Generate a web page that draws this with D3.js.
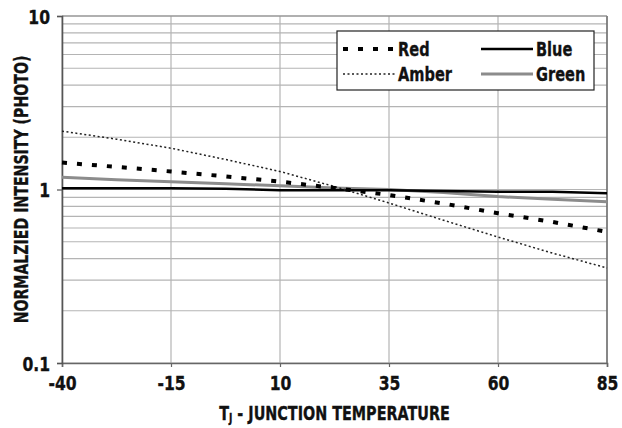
<!DOCTYPE html>
<html>
<head>
<meta charset="utf-8">
<script src="https://cdn.jsdelivr.net/npm/d3@7"></script>
<style>
  body { margin: 0; background: #fff; }
  text { font-family: "DejaVu Sans", sans-serif; font-weight: bold; fill: #111; stroke: #111; stroke-width: 0.35px; }
</style>
</head>
<body>
<svg id="chart" width="622" height="428"></svg>
<script>
// temperatures (deg C)
var temps = [-40, -27.5, -15, -2.5, 10, 22.5, 35, 47.5, 60, 72.5, 85];
// normalized intensity per colour
var redVals   = [1.43, 1.35, 1.27, 1.19, 1.11, 1.02, 0.93, 0.83, 0.73, 0.65, 0.57];
var amberVals = [2.17, 1.95, 1.73, 1.49, 1.27, 1.04, 0.836, 0.665, 0.532, 0.43, 0.353];
var blueVals  = [1.016, 1.016, 1.016, 1.01, 0.99, 0.99, 0.99, 0.98, 0.97, 0.97, 0.95];
var greenVals = [1.175, 1.14, 1.11, 1.08, 1.05, 1.02, 1.0, 0.96, 0.91, 0.88, 0.85];

var xTicks = [-40, -15, 10, 35, 60, 85];
var yTicks = [0.1, 1, 10];
var yTickLabels = ["0.1", "1", "10"];

var series = [
    { name: "Red",   values: redVals,   color: "#000", width: 4,   dash: "5,10" },
    { name: "Amber", values: amberVals, color: "#222", width: 1.5, dash: "2,2.5" },
    { name: "Blue",  values: blueVals,  color: "#000", width: 2.5, dash: null },
    { name: "Green", values: greenVals, color: "#8c8c8c", width: 3, dash: null }
];

var svg = d3.select("#chart");
var L = 62, R = 607, T = 16, B = 363;
var SQUEEZE = 0.78;   // fake a bold condensed face

var x = d3.scaleLinear().domain([-40, 85]).range([L, R]);
var y = d3.scaleLog().domain([0.1, 10]).range([B, T]);

// squeeze text horizontally around its anchor point
function condense(sel, sx) {
    sel.each(function() {
        var t = d3.select(this);
        var tx = +t.attr("x") || 0, ty = +t.attr("y") || 0;
        t.attr("transform", "translate(" + tx + "," + ty + ") scale(" + sx + ",1) translate(" + (-tx) + "," + (-ty) + ")");
    });
}

// minor + major horizontal grid
var gridY = [];
[0.1, 1].forEach(function(dec) {
    for (var k = 1; k <= 10; k++) gridY.push(dec * k);
});
svg.append("g").selectAll("line").data(gridY).enter().append("line")
    .attr("x1", L).attr("x2", R)
    .attr("y1", function(d) { return y(d); })
    .attr("y2", function(d) { return y(d); })
    .attr("stroke", "#b4b4b4").attr("stroke-width", 1.2);

// vertical grid
svg.append("g").selectAll("line").data(xTicks).enter().append("line")
    .attr("x1", function(d) { return x(d); })
    .attr("x2", function(d) { return x(d); })
    .attr("y1", T).attr("y2", B)
    .attr("stroke", "#b4b4b4").attr("stroke-width", 1.2);

// frame
svg.append("line").attr("x1", R).attr("x2", R).attr("y1", T).attr("y2", B)
    .attr("stroke", "#555").attr("stroke-width", 1.2);
svg.append("line").attr("x1", L).attr("x2", R).attr("y1", T).attr("y2", T)
    .attr("stroke", "#888").attr("stroke-width", 1.2);

// axes
var xAxis = d3.axisBottom(x).tickValues(xTicks).tickSize(4)
    .tickFormat(function(d) { return String(d); });
var gx = svg.append("g").attr("transform", "translate(0," + B + ")").call(xAxis);
gx.select(".domain").attr("stroke", "#666").attr("stroke-width", 1.6);
gx.selectAll(".tick line").attr("stroke", "#666").attr("stroke-width", 1.2);
gx.selectAll(".tick text").attr("font-size", 20).attr("dy", null).attr("y", 27);

var yAxis = d3.axisLeft(y).tickValues(yTicks).tickSize(5)
    .tickFormat(function(d, i) { return yTickLabels[i]; });
var gy = svg.append("g").attr("transform", "translate(" + L + ",0)").call(yAxis);
gy.select(".domain").attr("stroke", "#555").attr("stroke-width", 1.6);
gy.selectAll(".tick line").attr("stroke", "#555").attr("stroke-width", 1.2);
gy.selectAll(".tick text").attr("font-size", 20).attr("x", -12).attr("dy", null).attr("y", 7);

svg.selectAll(".tick text")
    .style("font-family", "'DejaVu Sans', sans-serif")
    .style("font-weight", "bold").attr("fill", "#111");
condense(svg.selectAll(".tick text"), SQUEEZE);

// series lines
var line = d3.line()
    .x(function(d) { return x(d[0]); })
    .y(function(d) { return y(d[1]); });

series.slice().reverse().forEach(function(s) {
    var pts = temps.map(function(t, i) { return [t, s.values[i]]; });
    svg.append("path").datum(pts)
        .attr("d", line)
        .attr("fill", "none")
        .attr("stroke", s.color)
        .attr("stroke-width", s.width)
        .attr("stroke-dasharray", s.dash);
});

// legend
var lg = svg.append("g");
lg.append("rect").attr("x", 337).attr("y", 31).attr("width", 257).attr("height", 59)
    .attr("fill", "#fff").attr("stroke", "#222").attr("stroke-width", 1.2);
var legPos = [[343, 49], [343, 74], [481, 49], [481, 74]];
series.forEach(function(s, i) {
    var p = legPos[i];
    lg.append("line").attr("x1", p[0]).attr("x2", p[0] + 52)
        .attr("y1", p[1]).attr("y2", p[1])
        .attr("stroke", s.color).attr("stroke-width", s.width)
        .attr("stroke-dasharray", s.dash);
    lg.append("text").attr("x", p[0] + 55).attr("y", p[1] + 7)
        .attr("font-size", 20).text(s.name);
});
condense(lg.selectAll("text"), 0.73);

// axis titles
var xt = svg.append("text").attr("x", (L + R) / 2).attr("y", 420)
    .attr("text-anchor", "middle").attr("font-size", 19)
    .html('T<tspan font-size="12" dy="2">J</tspan><tspan dy="-2"> - JUNCTION TEMPERATURE</tspan>');
condense(xt, 231 / xt.node().getComputedTextLength());

var yt = svg.append("text")
    .attr("text-anchor", "middle").attr("font-size", 19)
    .text("NORMALZIED INTENSITY (PHOTO)");
var ySq = 268 / yt.node().getComputedTextLength();
yt.attr("transform", "translate(28," + ((T + B) / 2) + ") rotate(-90) scale(" + ySq + ",1)");
</script>
</body>
</html>
